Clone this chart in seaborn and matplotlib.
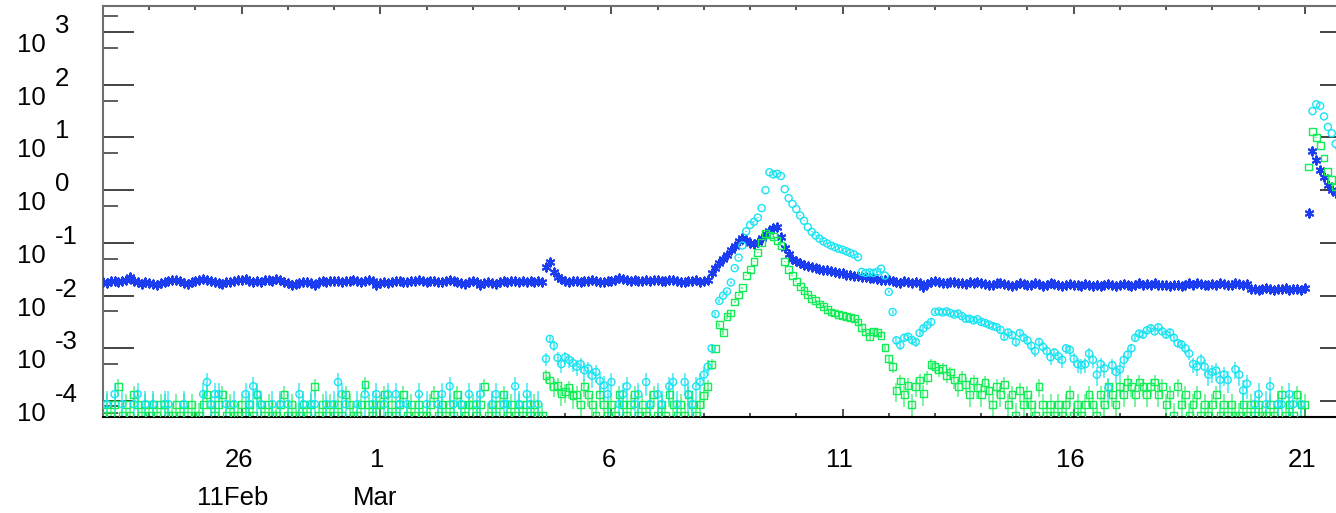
import numpy as np
import pandas as pd
import matplotlib
matplotlib.use("Agg")
import matplotlib.pyplot as plt
import matplotlib.dates as mdates
from matplotlib.ticker import FixedLocator, NullFormatter
from matplotlib.transforms import offset_copy
import seaborn as sns

sns.set_theme(style="white")
plt.rcParams["font.family"] = ["Liberation Sans", "DejaVu Sans"]

# 2-hourly samples, 23 Feb 2011 00:00 -> 22 Mar 2011 00:00 (one row = one day)
times = pd.date_range("2011-02-23", periods=324, freq="2h")

# log10 of the three channels (None = nothing plotted)
blue_log = [
    -1.74, -1.77, -1.73, -1.72, -1.75, -1.73, -1.71, -1.64, -1.72, -1.75, -1.78, -1.74,
    -1.76, -1.78, -1.80, -1.77, -1.74, -1.72, -1.70, -1.71, -1.73, -1.76, -1.78, -1.75,
    -1.73, -1.71, -1.69, -1.70, -1.72, -1.74, -1.76, -1.78, -1.75, -1.74, -1.72, -1.70,
    -1.71, -1.68, -1.72, -1.75, -1.73, -1.74, -1.71, -1.70, -1.72, -1.69, -1.70, -1.74,
    -1.77, -1.79, -1.78, -1.76, -1.75, -1.74, -1.76, -1.80, -1.75, -1.73, -1.74, -1.72,
    -1.72, -1.73, -1.74, -1.72, -1.73, -1.71, -1.72, -1.74, -1.72, -1.71, -1.73, -1.79,
    -1.77, -1.75, -1.76, -1.74, -1.73, -1.72, -1.74, -1.75, -1.73, -1.72, -1.71, -1.73,
    -1.74, -1.72, -1.73, -1.75, -1.74, -1.72, -1.71, -1.73, -1.74, -1.76, -1.78, -1.75,
    -1.73, -1.75, -1.80, -1.77, -1.74, -1.76, -1.78, -1.75, -1.73, -1.74, -1.72, -1.73,
    -1.74, -1.73, -1.75, -1.72, -1.74, -1.73, -1.75, -1.45, -1.37, -1.56, -1.64, -1.69,
    -1.72, -1.74, -1.73, -1.72, -1.74, -1.73, -1.72, -1.71, -1.73, -1.75, -1.74, -1.72,
    -1.72, -1.70, -1.66, -1.69, -1.71, -1.72, -1.70, -1.72, -1.73, -1.71, -1.72, -1.70,
    -1.71, -1.73, -1.72, -1.70, -1.71, -1.73, -1.75, -1.74, -1.72, -1.73, -1.71, -1.74,
    -1.72, -1.70, -1.58, -1.48, -1.38, -1.30, -1.23, -1.14, -1.05, -0.97, -0.90, -0.94,
    -1.00, -1.03, -0.98, -0.91, -0.84, -0.77, -0.71, -0.69, -0.88, -1.10, -1.22, -1.30,
    -1.34, -1.38, -1.41, -1.44, -1.46, -1.48, -1.50, -1.51, -1.52, -1.54, -1.55, -1.57,
    -1.58, -1.60, -1.61, -1.62, -1.63, -1.64, -1.65, -1.66, -1.67, -1.69, -1.70, -1.70,
    -1.71, -1.72, -1.74, -1.76, -1.73, -1.75, -1.77, -1.74, -1.76, -1.84, -1.78, -1.75,
    -1.73, -1.75, -1.77, -1.76, -1.74, -1.75, -1.77, -1.76, -1.78, -1.75, -1.76, -1.74,
    -1.77, -1.78, -1.80, -1.79, -1.77, -1.76, -1.78, -1.80, -1.81, -1.79, -1.77, -1.78,
    -1.80, -1.79, -1.77, -1.78, -1.81, -1.79, -1.76, -1.78, -1.80, -1.82, -1.79, -1.78,
    -1.80, -1.79, -1.81, -1.78, -1.80, -1.81, -1.79, -1.82, -1.80, -1.78, -1.79, -1.81,
    -1.80, -1.78, -1.79, -1.81, -1.80, -1.77, -1.79, -1.78, -1.80, -1.76, -1.79, -1.80,
    -1.79, -1.81, -1.80, -1.79, -1.82, -1.80, -1.77, -1.79, -1.76, -1.78, -1.80, -1.79,
    -1.78, -1.79, -1.77, -1.78, -1.80, -1.79, -1.77, -1.78, -1.79, -1.78, -1.87, -1.88,
    -1.89, -1.88, -1.86, -1.88, -1.90, -1.87, -1.88, -1.86, -1.89, -1.88, -1.87, -1.89,
    -1.86, -0.43, 0.75, 0.58, 0.38, 0.25, 0.10, 0.00, -0.06, -0.10, -0.14, -0.18,
]

cyan_log = [
    None, -4.06, None, -3.87, None, -4.06, None, None, -4.06, -3.87, None, -4.06,
    None, -4.06, None, None, -4.06, -4.06, None, None, None, -4.06, None, None,
    None, None, -3.87, -3.64, -4.06, -3.87, -3.87, None, -4.06, None, -4.06, None,
    None, -3.87, -4.06, -3.72, -3.87, -4.06, None, None, -4.06, None, -4.06, None,
    -4.06, None, None, -3.87, -4.06, None, -4.06, -4.06, None, None, -4.06, None,
    -4.06, -3.64, -3.87, -4.06, None, None, -4.06, None, -3.87, None, -4.06, -3.87,
    None, -4.06, -3.87, None, -3.87, -4.06, None, -4.06, None, None, -3.87, None,
    -4.06, None, None, -4.06, -3.87, None, -3.72, -4.06, None, -4.06, None, -3.87,
    None, -4.06, -3.87, None, None, -4.06, -3.87, None, -4.06, -4.06, None, -3.72,
    -4.06, None, -3.87, -4.06, None, -4.06, None, -3.20, -2.82, -2.95, -3.18, -3.30,
    -3.17, -3.22, -3.28, -3.35, -3.30, -3.42, -3.38, -3.52, -3.45, -3.62, -3.70, -3.87,
    -3.64, None, -4.06, -3.87, -3.72, None, -4.06, -3.87, None, -3.64, -4.06, None,
    -3.87, -4.06, None, -3.72, -3.64, -4.06, None, -3.64, -3.87, -4.06, -3.72, -3.64,
    -3.50, -3.35, -3.00, -2.35, -2.10, -2.00, -1.92, -1.75, -1.48, -1.28, -1.05, -0.78,
    -0.66, -0.60, -0.52, -0.34, 0.00, 0.34, 0.30, 0.31, 0.27, 0.02, -0.15, -0.26,
    -0.36, -0.48, -0.58, -0.70, -0.79, -0.86, -0.92, -0.97, -1.01, -1.05, -1.08, -1.11,
    -1.13, -1.16, -1.19, -1.22, -1.27, -1.55, -1.57, -1.56, -1.57, -1.55, -1.49, -1.62,
    -1.93, -2.31, -2.85, -2.94, -2.80, -2.78, -2.84, -2.88, -2.71, -2.62, -2.56, -2.50,
    -2.31, -2.30, -2.32, -2.30, -2.33, -2.36, -2.34, -2.39, -2.44, -2.44, -2.47, -2.45,
    -2.50, -2.52, -2.55, -2.58, -2.60, -2.65, -2.78, -2.70, -2.75, -2.88, -2.71, -2.80,
    -2.85, -2.95, -3.05, -2.88, -2.97, -3.05, -3.17, -3.08, -3.15, -3.22, -3.00, -3.03,
    -3.20, -3.30, -3.32, -3.30, -3.10, -3.22, -3.50, -3.30, -3.38, -3.75, -3.32, -3.45,
    -3.40, -3.22, -3.12, -3.00, -2.80, -2.72, -2.74, -2.66, -2.62, -2.68, -2.60, -2.68,
    -2.74, -2.70, -2.80, -2.90, -2.93, -3.00, -3.10, -3.30, -3.35, -3.22, -3.35, -3.50,
    -3.45, -3.42, -3.60, -3.50, -3.60, None, -3.40, -3.50, -3.80, -3.67, None, -4.06,
    -3.87, None, -4.06, -3.72, None, -4.06, -4.06, None, -3.87, -4.06, None, -4.06,
    None, None, 1.50, 1.63, 1.60, 1.40, 1.20, 1.08, 0.88, 0.80, 0.75, 0.70,
]

green_log = [
    -4.27, -4.06, -4.27, -4.06, -3.72, -4.27, -4.06, -4.27, -3.87, -4.06, -4.27, -4.06,
    -4.27, -4.06, -4.27, -4.06, -4.06, -4.27, -4.27, -4.06, -4.27, -4.06, -4.27, -4.06,
    -4.27, -4.27, -4.06, -3.87, -4.06, -4.27, -4.06, -3.87, -4.27, -4.06, -4.27, -4.27,
    -4.06, -4.27, -4.06, -4.27, -3.87, -4.06, -4.27, -4.06, -4.27, -4.27, -4.06, -3.87,
    -4.27, -4.06, -4.27, -4.27, -4.06, -4.27, -4.06, -3.72, -4.27, -4.06, -4.27, -4.06,
    -4.27, -4.06, -4.27, -3.87, -4.06, -4.27, -4.27, -4.06, -3.68, -4.06, -4.27, -4.06,
    -4.06, -3.87, -4.27, -4.06, -4.27, -4.06, -3.87, -4.27, -4.06, -4.27, -4.06, -4.27,
    -4.27, -4.06, -3.87, -4.27, -4.06, -4.27, -4.06, -4.27, -3.87, -4.06, -4.27, -4.06,
    -4.06, -4.27, -4.06, -3.72, -4.27, -4.06, -4.27, -4.06, -3.87, -4.27, -4.06, -4.27,
    -4.06, -4.27, -4.06, -4.27, -4.06, -4.27, -4.27, -3.52, -3.60, -3.72, -3.70, -3.85,
    -3.82, -3.75, -3.90, -3.87, -4.06, -3.72, -3.87, -4.06, -4.27, -3.87, -4.06, -4.27,
    -4.06, -4.27, -3.87, -4.06, -4.27, -4.06, -3.87, -4.27, -4.06, -4.27, -4.06, -3.87,
    -4.27, -4.06, -4.27, -3.87, -4.06, -4.27, -4.06, -4.27, -3.87, -4.06, -4.27, -4.06,
    -3.90, -3.73, -3.30, -3.00, -2.55, -2.70, -2.40, -2.33, -2.12, -1.99, -1.85, -1.62,
    -1.50, -1.35, -1.18, -1.00, -0.82, -0.85, -0.88, -0.95, -1.05, -1.36, -1.50, -1.62,
    -1.73, -1.82, -1.90, -1.98, -2.05, -2.10, -2.16, -2.20, -2.26, -2.31, -2.33, -2.36,
    -2.37, -2.40, -2.41, -2.44, -2.50, -2.60, -2.69, -2.78, -2.68, -2.70, -2.75, -2.98,
    -3.20, -3.35, -3.80, -3.62, -3.87, -3.70, -4.06, -3.72, -3.60, -3.85, -3.55, -3.30,
    -3.35, -3.41, -3.38, -3.51, -3.45, -3.60, -3.72, -3.55, -3.68, -3.87, -3.62, -3.75,
    -3.87, -3.65, -3.80, -4.06, -3.72, -3.87, -3.68, -4.06, -3.87, -4.27, -3.80, -4.06,
    -3.87, -4.06, -4.27, -3.72, -4.06, -4.27, -4.06, -4.27, -4.06, -4.27, -4.06, -3.87,
    -4.27, -4.06, -4.27, -4.06, -3.87, -4.06, -4.27, -3.87, -4.06, -3.72, -3.87, -4.06,
    -3.72, -3.87, -3.64, -3.72, -3.87, -3.64, -3.72, -3.87, -3.72, -3.64, -3.87, -3.72,
    -4.06, -3.87, -4.27, -3.72, -4.06, -3.87, -4.27, -4.06, -3.87, -4.27, -4.06, -4.27,
    -4.06, -3.87, -4.27, -4.06, -4.27, -4.06, -4.27, -4.27, -4.06, -4.27, -4.06, -4.27,
    -4.06, -4.27, -4.27, -4.06, -4.27, -4.06, -3.87, -4.27, -4.06, -4.27, -3.87, -4.06,
    -4.06, 0.44, 1.12, 1.00, 0.85, 0.61, 0.36, 0.20, 0.06, -0.02, -0.08, -0.12,
]

# count-rate unit of each channel, used for the Poisson error bars
cyan_unit = 5e-5
green_unit = 2.5e-5

y_major = [1e-4, 1e-3, 1e-2, 1e-1, 1e0, 1e1, 1e2, 1e3]
y_minor = [6e-5, 8e-5, 5e-4, 5e-3, 5e-2, 5e-1, 5e0, 5e1, 5e2, 2e3]
x_major = ["2011-02-26", "2011-03-01", "2011-03-06", "2011-03-11", "2011-03-16", "2011-03-21"]
x_labels = ["26", "1", "6", "11", "16", "21"]

BLUE = "#1c3cf0"
CYAN = "#1ae3f2"
GREEN = "#12ec55"
FS = 18.5

df = pd.DataFrame({
    "time": times,
    "blue": 10 ** np.array(blue_log, dtype=float),
    "cyan": 10 ** np.array(cyan_log, dtype=float),
    "green": 10 ** np.array(green_log, dtype=float),
})
df["cyan_err"] = np.sqrt(df["cyan"] * cyan_unit)
df["green_err"] = np.sqrt(df["green"] * green_unit)

fig = plt.figure(figsize=(13.36, 5.13), dpi=100)
# the right-hand axis sits just past the cropped edge of the picture
ax = fig.add_axes([103 / 1336, 96.5 / 513, 1248 / 1336, 410.5 / 513])

sns.scatterplot(data=df, x="time", y="blue", marker=(6, 2, 0), s=34,
                color=BLUE, linewidth=1.5, ax=ax, zorder=3)

ax.errorbar(df["time"], df["green"], yerr=df["green_err"], fmt="none",
            ecolor=GREEN, elinewidth=1.3, alpha=0.6, zorder=2)
sns.scatterplot(data=df, x="time", y="green", marker="s", s=24,
                facecolors="none", edgecolor=GREEN, linewidth=1.0, ax=ax, zorder=4)

ax.errorbar(df["time"], df["cyan"], yerr=df["cyan_err"], fmt="none",
            ecolor=CYAN, elinewidth=1.3, alpha=0.7, zorder=2)
sns.scatterplot(data=df, x="time", y="cyan", marker="o", s=26,
                facecolors="none", edgecolor=CYAN, linewidth=1.0, ax=ax, zorder=5)

ax.set_yscale("log")
ax.set_ylim(10 ** -4.294, 10 ** 3.495)
ax.set_xlim(pd.Timestamp("2011-02-23"), pd.Timestamp("2011-03-22"))
ax.set_xlabel("")
ax.set_ylabel("")

# ticks
ax.yaxis.set_major_locator(FixedLocator(y_major))
ax.yaxis.set_minor_locator(FixedLocator(y_minor))
ax.yaxis.set_major_formatter(NullFormatter())
ax.yaxis.set_minor_formatter(NullFormatter())
ax.xaxis.set_major_locator(FixedLocator(mdates.date2num(pd.to_datetime(x_major))))
ax.xaxis.set_minor_locator(mdates.DayLocator())
ax.xaxis.set_major_formatter(NullFormatter())
ax.tick_params(axis="y", which="major", direction="in", length=22.5, width=1.1,
               color="#111111", left=True, right=True)
ax.tick_params(axis="y", which="minor", direction="in", length=11, width=1.1,
               color="#333333", left=True, right=True)
ax.tick_params(axis="x", which="major", direction="in", length=6, width=1.1,
               color="#222222", bottom=True, top=True)
ax.tick_params(axis="x", which="minor", direction="in", length=3, width=1.1,
               color="#222222", bottom=True, top=True)

for side in ["left", "top", "right"]:
    ax.spines[side].set_color("#6f6f6f")
    ax.spines[side].set_linewidth(1.5)
ax.spines["bottom"].set_color("black")
ax.spines["bottom"].set_linewidth(1.5)

# IDL-style "10 ^n" labels on the y axis
base_tr = offset_copy(ax.get_yaxis_transform(), fig=fig, x=-57, y=-20, units="dots")
exp_tr = offset_copy(ax.get_yaxis_transform(), fig=fig, x=-48, y=-1, units="dots")
for val in y_major:
    ax.text(0, val, "10", transform=base_tr, ha="right", va="baseline",
            fontsize=FS, color="black")
    ax.text(0, val, str(int(round(np.log10(val)))), transform=exp_tr, ha="left",
            va="baseline", fontsize=FS, color="black")

# day numbers and month labels under the x axis
day_tr = offset_copy(ax.get_xaxis_transform(), fig=fig, x=-3, y=-50.5, units="dots")
for d, lab in zip(x_major, x_labels):
    ax.text(pd.Timestamp(d), 0, lab, transform=day_tr, ha="center", va="baseline",
            fontsize=FS, color="black")
feb_tr = offset_copy(ax.get_xaxis_transform(), fig=fig, x=-9, y=-88.5, units="dots")
mar_tr = offset_copy(ax.get_xaxis_transform(), fig=fig, x=-5.5, y=-88.5, units="dots")
ax.text(pd.Timestamp(x_major[0]), 0, "11Feb", transform=feb_tr, ha="center",
        va="baseline", fontsize=FS, color="black")
ax.text(pd.Timestamp(x_major[1]), 0, "Mar", transform=mar_tr, ha="center",
        va="baseline", fontsize=FS, color="black")

fig.savefig("out.png", dpi=100)
plt.close(fig)
